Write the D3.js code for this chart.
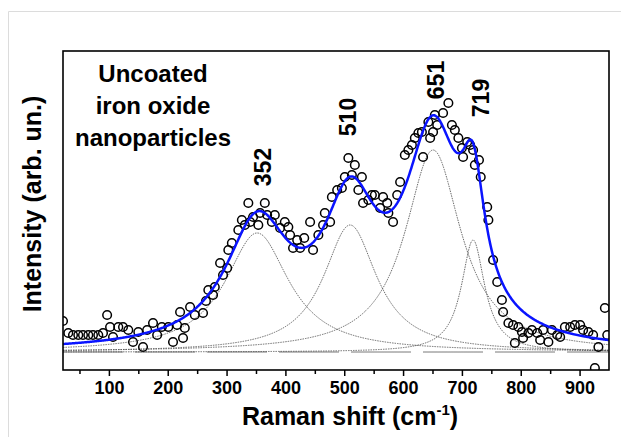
<!DOCTYPE html>
<html><head><meta charset="utf-8">
<script src="https://cdn.jsdelivr.net/npm/d3@7"></script>
<style>
html,body{margin:0;padding:0;background:#fff;}
text{font-family:"Liberation Sans",Arial,sans-serif;font-weight:bold;fill:#000;}
</style></head>
<body>
<svg id="chart" width="621" height="437"></svg>
<script>
// Raman shift (cm-1) of measured points
const shift = [22,31,39,48,56,65,73,82,90,97,102,107,116,124,133,141,150,158,165,175,182,190,201,209,216,221,226,229,238,246,260,265,269,277,280,289,294,301,303,309,320,326,331,337,340,345,354,357,365,369,377,382,391,399,405,408,413,420,425,432,442,447,456,464,467,476,479,488,496,501,507,513,518,524,530,532,541,547,552,561,566,573,575,583,590,595,603,609,615,620,626,632,634,643,646,651,654,658,668,677,683,688,694,700,702,709,714,719,722,729,732,743,745,753,760,768,770,779,787,790,796,802,804,813,819,828,833,838,847,853,862,867,875,884,892,901,906,915,923,926,932,943,947];
// measured intensity (arb. un.)
const intensity = [49,37,35,35,35,35,35,35,37,55,43,33,43,43,40,28,38,23,40,47,35,43,43,28,45,58,32,42,63,55,57,69,80,75,83,107,95,102,120,127,140,150,145,167,148,153,145,157,167,155,148,155,142,148,143,135,122,130,122,132,148,120,135,145,157,148,173,180,182,193,212,195,205,180,193,167,170,175,175,162,173,167,157,148,175,188,215,220,225,232,237,238,213,248,232,238,255,245,257,267,245,240,232,222,213,228,225,220,205,210,193,163,150,110,88,70,58,47,45,27,43,38,32,37,40,37,30,40,28,40,35,33,43,43,45,45,40,38,35,2,23,62,35];
// Lorentzian fit components
const peakCenters = [352,510,651,719];
const peakHeights = [119,127,202,112];
const peakHWHM = [66,55,58,24];
const baselineLevel = 18;
const xTickLabels = [100,200,300,400,500,600,700,800,900];
const xMinorTicks = [50,150,250,350,450,550,650,750,850];
const textLines = ["Uncoated","iron oxide","nanoparticles"];

const svg = d3.select("#chart");
const L=63,R=609,T=51,B=370;
const x = d3.scaleLinear().domain([22,950]).range([L,R]);
const y = d3.scaleLinear().domain([0,319]).range([B,T]);

// faint outer border
svg.append("path").attr("d","M8.5,437 V11.5 H621").attr("fill","none").attr("stroke","#dcdcdc").attr("stroke-width",1);

svg.append("clipPath").attr("id","clip").append("rect").attr("x",L).attr("y",T).attr("width",R-L).attr("height",B-T);
const g = svg.append("g").attr("clip-path","url(#clip)");

const xs = d3.range(22,951,1);
function lor(v,i){const d=(v-peakCenters[i])/peakHWHM[i];return peakHeights[i]/(1+d*d);}
const line = d3.line().x(d=>x(d[0])).y(d=>y(d[1]));

// baseline
g.append("path").datum(xs.map(v=>[v,baselineLevel])).attr("d",line)
 .attr("fill","none").attr("stroke","#666").attr("stroke-width",1).attr("stroke-dasharray","60,12");
// components
peakCenters.forEach((c,i)=>{
  g.append("path").datum(xs.map(v=>[v,baselineLevel+lor(v,i)])).attr("d",line)
   .attr("fill","none").attr("stroke","#444").attr("stroke-width",0.8).attr("stroke-dasharray","1.5,1");
});
// data points
g.selectAll("circle").data(shift.map((s,i)=>[s,intensity[i]])).join("circle")
 .attr("cx",d=>x(d[0])).attr("cy",d=>y(d[1])).attr("r",4.3)
 .attr("fill","none").attr("stroke","#000").attr("stroke-width",1.5);
// fit
g.append("path").datum(xs.map(v=>[v,baselineLevel+peakCenters.reduce((s,c,i)=>s+lor(v,i),0)])).attr("d",line)
 .attr("fill","none").attr("stroke","#0a14ff").attr("stroke-width",2.5);

// axes
const ax = svg.append("g").attr("transform",`translate(0,${B})`)
 .call(d3.axisBottom(x).tickValues(xTickLabels).tickSize(6).tickPadding(5).tickFormat(d3.format("d")));
ax.select(".domain").remove();
ax.selectAll("line").attr("stroke","#000").attr("stroke-width",1.5);
ax.selectAll("text").style("font-size","18px").style("font-family","'Liberation Sans',Arial,sans-serif").style("font-weight","bold").attr("fill","#000");
const axm = svg.append("g").attr("transform",`translate(0,${B})`)
 .call(d3.axisBottom(x).tickValues(xMinorTicks).tickSize(4).tickFormat(""));
axm.select(".domain").remove();
axm.selectAll("line").attr("stroke","#000").attr("stroke-width",1.5);

svg.append("rect").attr("x",L).attr("y",T).attr("width",R-L).attr("height",B-T)
 .attr("fill","none").attr("stroke","#000").attr("stroke-width",1.6);

// labels
const xt = svg.append("text").attr("x",(L+R)/2+14).attr("y",425).attr("text-anchor","middle").style("font-size","25px");
xt.append("tspan").text("Raman shift (cm");
xt.append("tspan").text("-1").style("font-size","15px").attr("dy",-10);
xt.append("tspan").text(")").attr("dy",10);

svg.append("text").attr("transform","translate(41,204) rotate(-90)").attr("text-anchor","middle")
 .style("font-size","25px").text("Intensity (arb. un.)");

textLines.forEach((t,i)=>{
  svg.append("text").attr("x",153).attr("y",82+i*32).attr("text-anchor","middle").style("font-size","24px").text(t);
});

const labelPos = [[271,167],[356,117],[444,80],[489,98]];
peakCenters.forEach((c,i)=>{
  svg.append("text").attr("transform",`translate(${labelPos[i][0]},${labelPos[i][1]}) rotate(-90)`)
   .attr("text-anchor","middle").style("font-size","23px").text(String(c));
});
</script>
</body></html>
